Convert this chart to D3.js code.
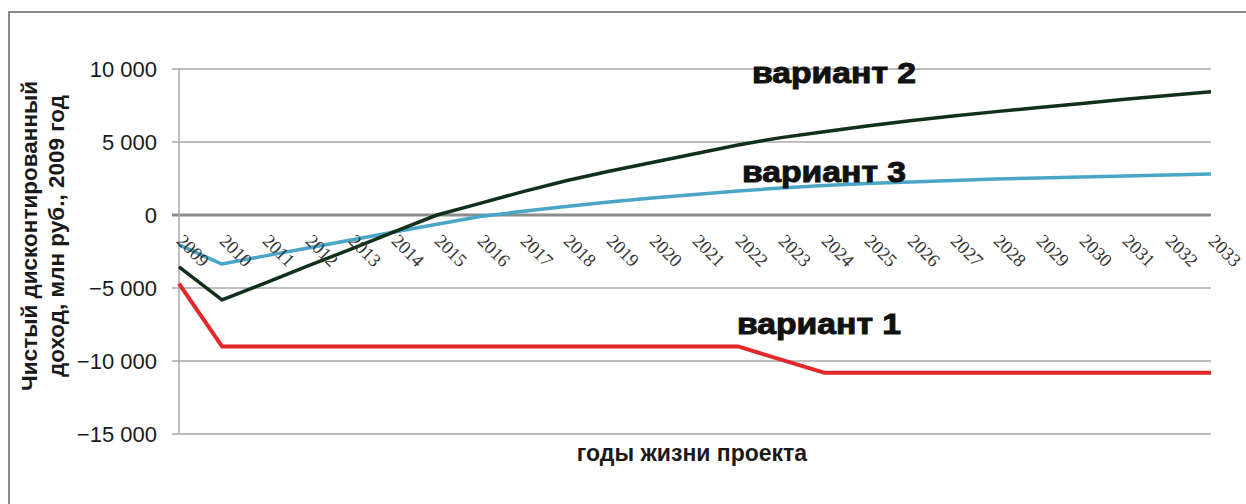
<!DOCTYPE html>
<html>
<head>
<meta charset="utf-8">
<script src="https://cdn.jsdelivr.net/npm/d3@7"></script>
<style>
  body { margin: 0; background: #fff; }
  svg { display: block; }
</style>
</head>
<body>
<div class="chart"></div>
<script>
// years of the project life (categories)
const years = ['2009','2010','2011','2012','2013','2014','2015','2016','2017','2018','2019','2020',
  '2021','2022','2023','2024','2025','2026','2027','2028','2029','2030','2031','2032','2033'];

// net discounted income, mln rub
const variant1 = [-4700,-9000,-9000,-9000,-9000,-9000,-9000,-9000,-9000,-9000,-9000,-9000,
  -9000,-9000,-9900,-10800,-10800,-10800,-10800,-10800,-10800,-10800,-10800,-10800,-10800];
const variant2 = [-3560,-5820,-4660,-3490,-2330,-1160,0,800,1600,2350,3000,3600,
  4200,4800,5300,5700,6100,6450,6780,7080,7360,7640,7930,8190,8440];
const variant3 = [-2050,-3360,-2800,-2260,-1710,-1160,-630,-100,250,580,890,1160,
  1400,1640,1850,2020,2160,2260,2360,2460,2530,2600,2670,2740,2810];

const yTicks = [10000, 5000, 0, -5000, -10000, -15000];

const W = 1246, H = 504;
const margin = {top: 69, right: 35, bottom: 70, left: 179};
const width = W - margin.left - margin.right;
const height = H - margin.top - margin.bottom;

const svg = d3.select('.chart').append('svg')
  .attr('width', W)
  .attr('height', H);

// outer frame
svg.append('rect')
  .attr('x', 9).attr('y', 12)
  .attr('width', W + 20).attr('height', H + 20)
  .attr('fill', 'none')
  .attr('stroke', '#8a8a8a')
  .attr('stroke-width', 2);

const g = svg.append('g')
  .attr('transform', `translate(${margin.left},${margin.top})`);

const x = d3.scalePoint()
  .domain(years)
  .range([0, width]);

const y = d3.scaleLinear()
  .domain([-15000, 10000])
  .range([height, 0]);

const ru = d3.formatLocale({decimal: ',', thousands: ' ', grouping: [3], currency: ['', ''], minus: '\u2212'});

// gridlines
g.selectAll('.grid')
  .data(yTicks)
  .enter()
  .append('line')
  .attr('class', 'grid')
  .attr('x1', -7)
  .attr('x2', width)
  .attr('y1', d => y(d))
  .attr('y2', d => y(d))
  .attr('stroke', d => d === 0 ? '#8c8c8c' : '#a8a8a8')
  .attr('stroke-width', d => d === 0 ? 3 : 1.5);

// y axis line
g.append('line')
  .attr('x1', 0).attr('x2', 0)
  .attr('y1', 0).attr('y2', height)
  .attr('stroke', '#a8a8a8')
  .attr('stroke-width', 1.5);

const yAxis = d3.axisLeft(y)
  .tickValues(yTicks)
  .tickSize(0)
  .tickPadding(22)
  .tickFormat(ru.format(','));

g.append('g')
  .call(yAxis)
  .call(s => s.select('.domain').remove())
  .selectAll('text')
  .attr('font-family', 'Liberation Sans, Arial, sans-serif')
  .attr('font-size', 22)
  .attr('fill', '#1a1a1a');

// lines
const line = d3.line()
  .x((d, i) => x(years[i]))
  .y(d => y(d));

const series = [
  {values: variant1, color: '#e3282b', w: 4},
  {values: variant3, color: '#4aa6c6', w: 3.5},
  {values: variant2, color: '#10301a', w: 3.5}
];

g.selectAll('.series')
  .data(series)
  .enter()
  .append('path')
  .attr('class', 'series')
  .attr('d', d => line(d.values))
  .attr('fill', 'none')
  .attr('stroke', d => d.color)
  .attr('stroke-width', d => d.w)
  .attr('stroke-linejoin', 'round');

// category labels sit next to the zero line
const xAxis = d3.axisBottom(x)
  .tickSize(0)
  .tickPadding(0);

g.append('g')
  .attr('transform', `translate(0,${y(0)})`)
  .call(xAxis)
  .call(s => s.select('.domain').remove())
  .selectAll('text')
  .attr('font-family', 'Liberation Serif, Times New Roman, serif')
  .attr('font-size', 18.5)
  .attr('fill', '#333')
  .attr('y', 0)
  .attr('dy', 0)
  .style('text-anchor', 'start')
  .attr('transform', 'translate(-4,27) rotate(45)');

// series annotations
const notes = [
  {text: 'вариант 2', year: '2022', v: 9040, dx: 14},
  {text: 'вариант 3', year: '2022', v: 2260, dx: 4},
  {text: 'вариант 1', year: '2022', v: -8150, dx: -1}
];

g.selectAll('.note')
  .data(notes)
  .enter()
  .append('text')
  .attr('class', 'note')
  .attr('x', d => x(d.year) + d.dx)
  .attr('y', d => y(d.v))
  .attr('font-family', 'Liberation Sans, Arial, sans-serif')
  .attr('font-weight', 'bold')
  .attr('font-size', 30)
  .attr('stroke', '#111')
  .attr('stroke-width', 1)
  .attr('fill', '#111')
  .attr('textLength', 164)
  .attr('lengthAdjust', 'spacingAndGlyphs')
  .text(d => d.text);

// axis titles
svg.append('text')
  .attr('transform', 'translate(37,236) rotate(-90)')
  .attr('text-anchor', 'middle')
  .attr('font-family', 'Liberation Sans, Arial, sans-serif')
  .attr('font-weight', 'bold')
  .attr('font-size', 22.5)
  .attr('fill', '#1a1a1a')
  .text('Чистый дисконтированный');

svg.append('text')
  .attr('transform', 'translate(64,236) rotate(-90)')
  .attr('text-anchor', 'middle')
  .attr('font-family', 'Liberation Sans, Arial, sans-serif')
  .attr('font-weight', 'bold')
  .attr('font-size', 22.5)
  .attr('fill', '#1a1a1a')
  .text('доход, млн руб., 2009 год');

svg.append('text')
  .attr('x', 692)
  .attr('y', 461)
  .attr('text-anchor', 'middle')
  .attr('font-family', 'Liberation Sans, Arial, sans-serif')
  .attr('font-weight', 'bold')
  .attr('font-size', 23)
  .attr('fill', '#1a1a1a')
  .text('годы жизни проекта');
</script>
</body>
</html>
